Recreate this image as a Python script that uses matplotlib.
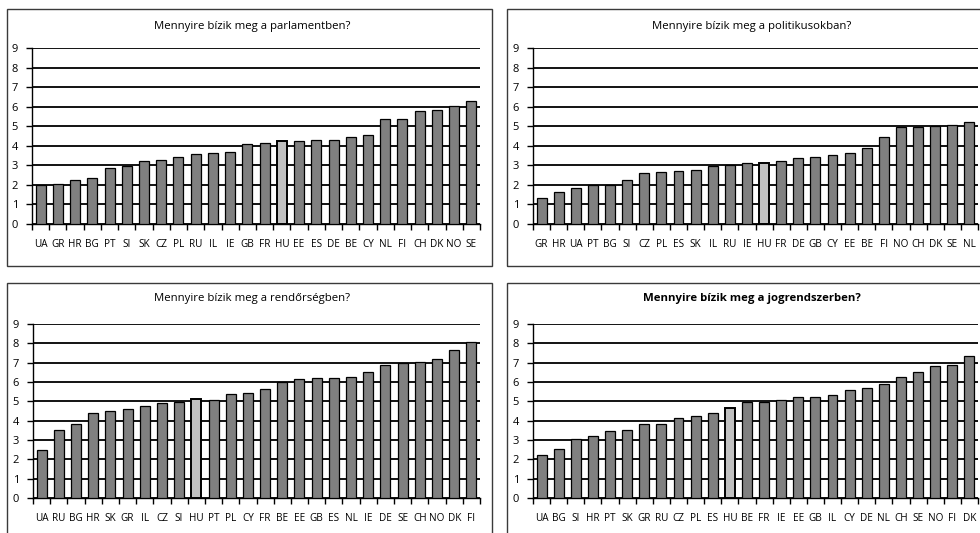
import matplotlib
matplotlib.use("Agg")
import matplotlib.pyplot as plt
from matplotlib.patches import Rectangle

plt.rcParams['font.family'] = ['Open Sans', 'DejaVu Sans']

parl_countries = ["UA", "GR", "HR", "BG", "PT", "SI", "SK", "CZ", "PL", "RU", "IL", "IE", "GB",
                  "FR", "HU", "EE", "ES", "DE", "BE", "CY", "NL", "FI", "CH", "DK", "NO", "SE"]
parl_values = [2.0, 2.05, 2.26, 2.37, 2.86, 2.96, 3.2, 3.27, 3.42, 3.57, 3.65, 3.66, 4.11,
               4.14, 4.23, 4.22, 4.28, 4.31, 4.47, 4.56, 5.37, 5.38, 5.79, 5.82, 6.01, 6.29]

pol_countries = ["GR", "HR", "UA", "PT", "BG", "SI", "CZ", "PL", "ES", "SK", "IL", "RU", "IE",
                 "HU", "FR", "DE", "GB", "CY", "EE", "BE", "FI", "NO", "CH", "DK", "SE", "NL"]
pol_values = [1.35, 1.62, 1.83, 1.97, 1.98, 2.25, 2.61, 2.65, 2.73, 2.78, 2.97, 3.03, 3.1,
              3.14, 3.2, 3.38, 3.45, 3.55, 3.62, 3.87, 4.44, 4.95, 4.98, 5.03, 5.04, 5.24]

police_countries = ["UA", "RU", "BG", "HR", "SK", "GR", "IL", "CZ", "SI", "HU", "PT", "PL", "CY",
                    "FR", "BE", "EE", "GB", "ES", "NL", "IE", "DE", "SE", "CH", "NO", "DK", "FI"]
police_values = [2.5, 3.52, 3.83, 4.4, 4.5, 4.62, 4.78, 4.9, 4.98, 5.12, 5.09, 5.4, 5.45,
                 5.64, 6.02, 6.13, 6.21, 6.22, 6.24, 6.53, 6.88, 6.98, 7.03, 7.21, 7.67, 8.05]

law_countries = ["UA", "BG", "SI", "HR", "PT", "SK", "GR", "RU", "CZ", "PL", "ES", "HU", "BE",
                 "FR", "IE", "EE", "GB", "IL", "CY", "DE", "NL", "CH", "SE", "NO", "FI", "DK"]
law_values = [2.24, 2.53, 3.07, 3.21, 3.47, 3.53, 3.81, 3.84, 4.14, 4.24, 4.41, 4.67, 4.95,
              4.97, 5.09, 5.21, 5.22, 5.31, 5.57, 5.67, 5.88, 6.28, 6.53, 6.84, 6.9, 7.34]

W, H = 980, 533
fig = plt.figure(figsize=(W / 100, H / 100), dpi=100)
fig.patch.set_facecolor("white")


def px_rect(x0, y0, x1, y1):
    # pixel box (top-left origin) -> figure fraction rect
    return [x0 / W, 1 - y1 / H, (x1 - x0) / W, (y1 - y0) / H]


# panel frames
for (x0, y0, x1, y1) in [(7, 9, 492, 266), (507, 9, 990, 266),
                         (7, 283, 492, 545), (507, 283, 990, 545)]:
    fig.patches.append(Rectangle((x0 / W, 1 - y1 / H), (x1 - x0) / W, (y1 - y0) / H,
                                 transform=fig.transFigure, fill=False,
                                 edgecolor="#3a3a3a", linewidth=1.0))


def draw_panel(rect, title_y, title, countries, values, bold=False):
    ax = fig.add_axes(px_rect(*rect))
    x = list(range(len(countries)))
    colors = ["#c0c0c0" if c == "HU" else "#808080" for c in countries]
    widths = [1.4 if c == "HU" else 0.9 for c in countries]
    ax.set_axisbelow(True)
    ax.yaxis.grid(True, color="black", linewidth=1.3)
    ax.bar(x, values, width=0.58, color=colors, edgecolor="black", linewidth=widths, zorder=3)
    ax.set_xlim(-0.5, len(countries) - 0.5)
    ax.set_ylim(0, 9)
    ax.set_yticks(range(10))
    ax.set_yticklabels([str(i) for i in range(10)], fontsize=8)
    ax.set_xticks(x)
    ax.set_xticklabels(countries, fontsize=7.2)
    ax.tick_params(axis="x", length=0, pad=11)
    ax.set_xticks([i - 0.5 for i in range(len(countries) + 1)], minor=True)
    ax.tick_params(axis="x", which="minor", length=4, width=1, direction="out")
    ax.tick_params(axis="y", length=4, width=1, pad=6)
    for s in ["top", "right"]:
        ax.spines[s].set_visible(False)
    ax.spines["left"].set_linewidth(1.0)
    ax.spines["bottom"].set_linewidth(1.0)
    cx = (rect[0] + rect[2]) / 2 - 4
    fig.text(cx / W, 1 - title_y / H, title, ha="center", va="center", fontsize=8.2,
             fontweight="bold" if bold else "normal")
    return ax


draw_panel((32, 48, 480, 224), 27, "Mennyire bízik meg a parlamentben?", parl_countries, parl_values)
draw_panel((533, 48, 978, 224), 27, "Mennyire bízik meg a politikusokban?", pol_countries, pol_values)
draw_panel((33, 324, 480, 498), 299, "Mennyire bízik meg a rendőrségben?", police_countries, police_values)
draw_panel((533, 324, 978, 498), 299, "Mennyire bízik meg a jogrendszerben?", law_countries, law_values,
           bold=True)

fig.savefig("out.png", dpi=100, facecolor="white")
